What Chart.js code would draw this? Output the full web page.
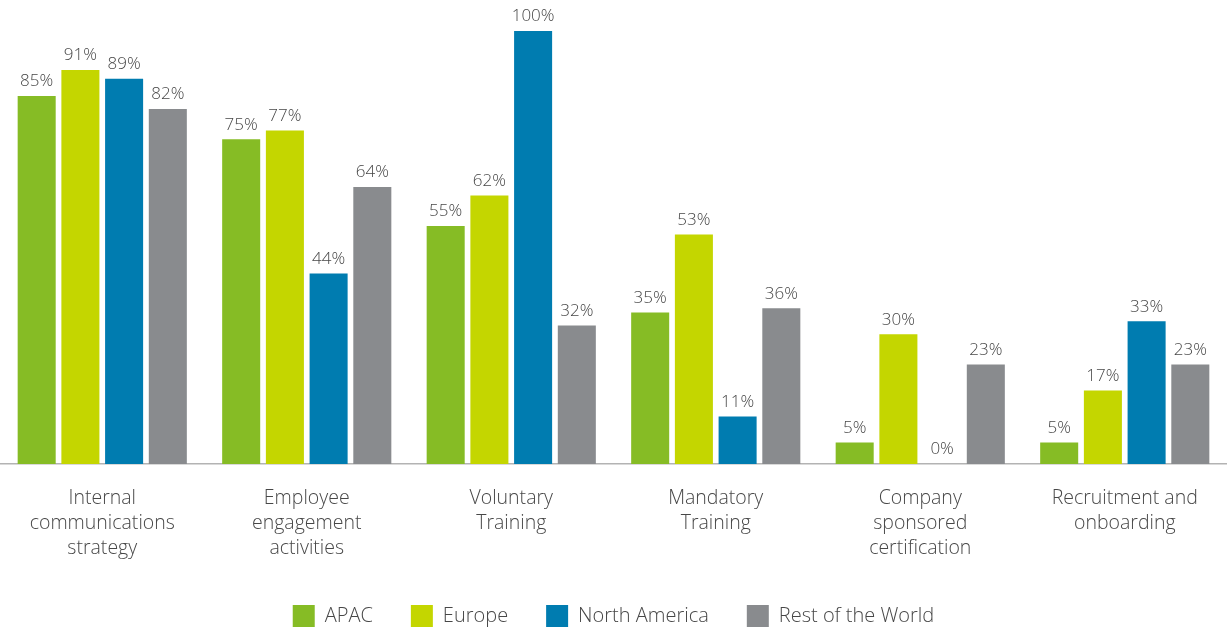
<!DOCTYPE html>
<html>
<head>
<meta charset="utf-8">
<script src="https://cdn.jsdelivr.net/npm/chart.js@4.4.1/dist/chart.umd.min.js"></script>
<style>
  body { margin: 0; background: #fff; }
  #wrap { width: 1227px; height: 629px; }
</style>
</head>
<body>
<div id="wrap"><canvas id="myChart" width="1227" height="629"></canvas></div>
<script>
  // data
  const categories = [
    ["Internal", "communications", "strategy"],
    ["Employee", "engagement", "activities"],
    ["Voluntary", "Training"],
    ["Mandatory", "Training"],
    ["Company", "sponsored", "certification"],
    ["Recruitment and", "onboarding"],
  ];
  const apac = [85, 75, 55, 35, 5, 5];
  const europe = [91, 77, 62, 53, 30, 17];
  const northAmerica = [89, 44, 100, 11, 0, 33];
  const restOfWorld = [82, 64, 32, 36, 23, 23];

  const textColor = "#474747";
  const fontFamily = "'Open Sans', sans-serif";

  // value labels above each bar
  const valueLabels = {
    id: "valueLabels",
    afterDatasetsDraw(chart) {
      const ctx = chart.ctx;
      ctx.save();
      ctx.font = "300 17px " + fontFamily;
      ctx.fillStyle = textColor;
      ctx.textAlign = "center";
      ctx.textBaseline = "bottom";
      chart.data.datasets.forEach((ds, i) => {
        const meta = chart.getDatasetMeta(i);
        meta.data.forEach((bar, j) => {
          ctx.fillText(ds.data[j] + "%", bar.x, bar.y - 6);
        });
      });
      ctx.restore();
    },
  };

  const ctx = document.getElementById("myChart");

  new Chart(ctx, {
    type: "bar",
    data: {
      labels: categories,
      datasets: [
        { label: "APAC", data: apac, backgroundColor: "#86BC25" },
        { label: "Europe", data: europe, backgroundColor: "#C4D600" },
        { label: "North America", data: northAmerica, backgroundColor: "#007CB0" },
        { label: "Rest of the World", data: restOfWorld, backgroundColor: "#898B8E" },
      ],
    },
    options: {
      responsive: false,
      animation: false,
      categoryPercentage: 0.855,
      barPercentage: 0.87,
      layout: {
        padding: { top: 31, left: 0, right: 0, bottom: -8 },
      },
      scales: {
        y: {
          display: false,
          min: 0,
          max: 100,
        },
        x: {
          grid: { display: false, drawTicks: false },
          border: { display: true, color: "#b3b3b3", width: 1.5 },
          ticks: {
            color: textColor,
            padding: 22,
            maxRotation: 0,
            autoSkip: false,
            font: { family: fontFamily, size: 19.5, weight: 300, lineHeight: 1.28 },
          },
          afterFit(scale) {
            scale.height -= 16;
          },
        },
      },
      plugins: {
        legend: {
          position: "bottom",
          labels: {
            boxWidth: 22,
            boxHeight: 22,
            padding: 38,
            color: textColor,
            font: { family: fontFamily, size: 20, weight: 300 },
          },
        },
        tooltip: { enabled: false },
      },
    },
    plugins: [valueLabels],
  });
</script>
</body>
</html>
